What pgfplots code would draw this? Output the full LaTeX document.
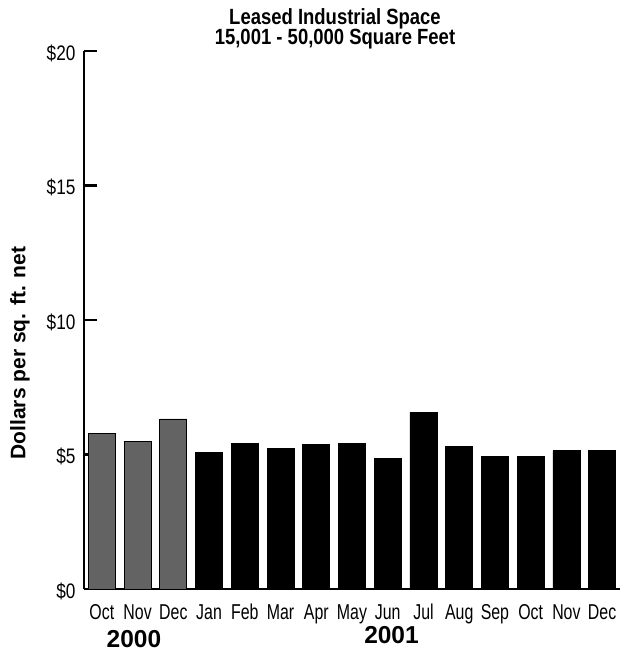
\documentclass[border=0pt]{standalone}
\usepackage{fontspec}
\setmainfont{Liberation Sans}
\newfontfamily\narrowfont[FakeStretch=0.84]{Liberation Sans}
\newfontfamily\monthfont[FakeStretch=0.74]{Liberation Sans}
\newfontfamily\ytickfont[FakeStretch=0.82]{Liberation Sans}
\usepackage{pgfplots}
\pgfplotsset{compat=1.18}
\definecolor{bargray}{HTML}{636363}
\begin{document}
\begin{tikzpicture}[x=1pt,y=1pt]
\begin{axis}[
  at={(0,0)}, anchor=south west,
  scale only axis, width=536pt, height=538pt,
  xmin=-0.5, xmax=14.5, ymin=0, ymax=20,
  axis x line=bottom, axis y line=left,
  axis line style={-, line width=2.2pt},
  ytick={0,5,10,15,20},
  yticklabels={\$0,\$5,\$10,\$15,\$20},
  xtick={0,...,14},
  xticklabels={Oct,Nov,Dec,Jan,Feb,Mar,Apr,May,Jun,Jul,Aug,Sep,Oct,Nov,Dec},
  major x tick style={draw=none},
  major y tick style={line width=2.2pt, black},
  tick align=inside, major tick length=13pt,
  yticklabel style={font=\ytickfont\fontsize{21}{25}\selectfont, xshift=-5pt, yshift=-2pt},
  xticklabel style={font=\monthfont\fontsize{21.5}{25}\selectfont, anchor=base, yshift=-17pt},
  ybar, bar width=27pt, bar shift=0pt,
]
\addplot[fill=bargray, draw=black, line width=0.8pt] coordinates {
  (0,5.79) (1,5.48) (2,6.32)
};
\addplot[fill=black, draw=black, line width=0.8pt] coordinates {
  (3,5.09) (4,5.41) (5,5.23) (6,5.38) (7,5.40) (8,4.85) (9,6.57)
  (10,5.31) (11,4.94) (12,4.94) (13,5.14) (14,5.16)
};
\end{axis}
\node[anchor=base, font=\narrowfont\bfseries\fontsize{22}{26}\selectfont] at (251,564) {Leased Industrial Space};
\node[anchor=base, font=\narrowfont\bfseries\fontsize{22}{26}\selectfont] at (251,544) {15,001 - 50,000 Square Feet};
\node[anchor=center, rotate=90, font=\bfseries\fontsize{21}{25}\selectfont] at (-64,236) {Dollars per sq. ft. net};
\node[anchor=base, inner sep=0pt, font=\bfseries\fontsize{24.5}{29}\selectfont] at (50,-58) {2000};
\node[anchor=base, inner sep=0pt, font=\bfseries\fontsize{24.5}{29}\selectfont] at (307.5,-55) {2001};
\pgfresetboundingbox
\path[use as bounding box] (-84,-62) rectangle (538,589);
\end{tikzpicture}
\end{document}
